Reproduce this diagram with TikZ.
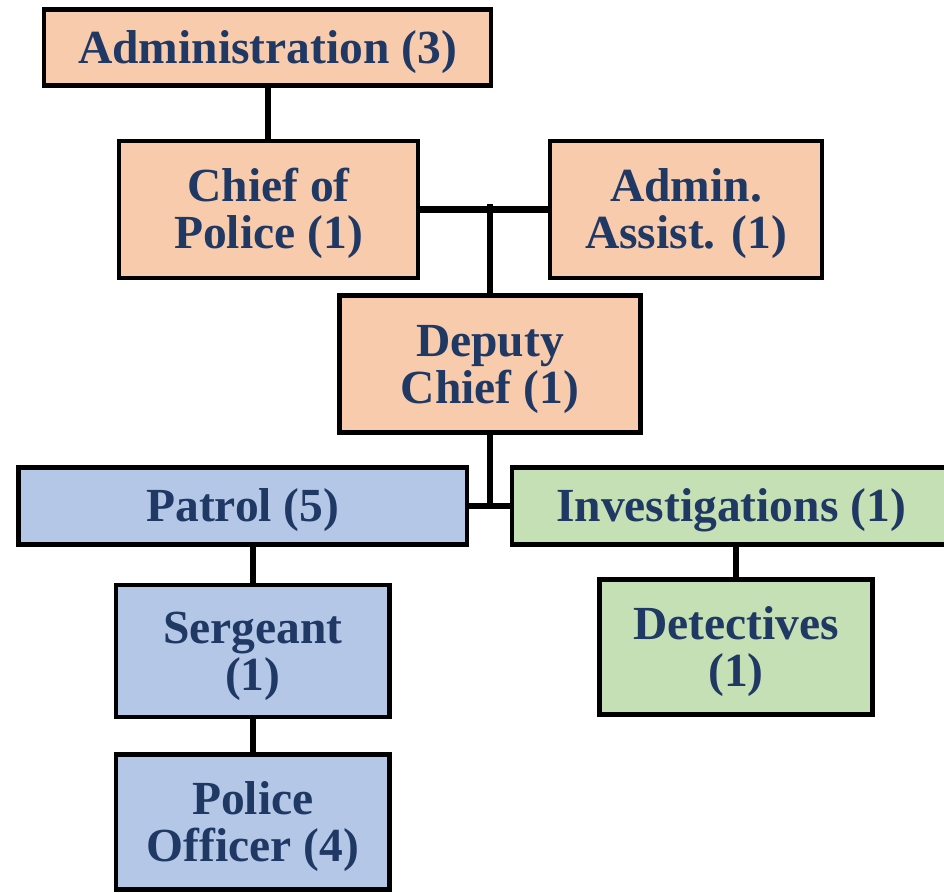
\documentclass[tikz,border=0pt]{standalone}
\usepackage{fontspec}
\setmainfont{Liberation Serif}
\definecolor{peach}{HTML}{F8CBAD}
\definecolor{paleblue}{HTML}{B4C7E7}
\definecolor{palegreen}{HTML}{C5E0B4}
\definecolor{navytext}{HTML}{1F3864}
% tall strut for the first line, which sets the text a little low in its box
\newcommand{\toplift}{\rule{0pt}{42pt}}
\tikzset{
  orgbox/.style={draw=black, line width=4.5pt, rectangle, inner sep=0pt,
    align=center, text=navytext,
    font=\fontsize{47.5}{47}\selectfont\bfseries},
  admin/.style={orgbox, fill=peach},
  patrolunit/.style={orgbox, fill=paleblue},
  investunit/.style={orgbox, fill=palegreen},
  link/.style={draw=black, line width=6.5pt}
}
\begin{document}
\begin{tikzpicture}[x=1pt,y=-1pt]
\useasboundingbox (0,0) rectangle (944,892);
\fill[white] (0,0) rectangle (944,892);

% command staff
\node[admin, minimum width=447pt, minimum height=76pt] (adm) at (267.5,47.5) {\toplift Administration (3)};
\node[admin, minimum width=299pt, minimum height=137pt] (chief) at (268.5,209.5) {\toplift Chief of\\Police (1)};
\node[admin, minimum width=272pt, minimum height=137pt] (assist) at (686,209.5) {\toplift Admin.\\Assist. (1)};
\node[admin, minimum width=301pt, minimum height=137pt] (deputy) at (490,364) {\toplift Deputy\\Chief (1)};

% divisions
\node[patrolunit, minimum width=448.5pt, minimum height=77pt] (patrol) at (242.75,506) {\toplift Patrol (5)};
\node[investunit, minimum width=438pt, minimum height=77pt] (invest) at (731,506) {\toplift Investigations (1)};
\node[patrolunit, minimum width=273.5pt, minimum height=132pt] (sergeant) at (252.75,651) {\toplift Sergeant\\(1)};
\node[patrolunit, minimum width=273.5pt, minimum height=135pt] (officer) at (252.75,822) {\toplift Police\\Officer (4)};
\node[investunit, minimum width=273pt, minimum height=135pt] (detect) at (736,647) {\toplift Detectives\\(1)};

% reporting lines
\coordinate (jtop) at (490,204);
\draw[link] (adm.south -| 268,0) -- (chief.north -| 268,0);
\draw[link] (chief.east) -- (assist.west);
\draw[link] (jtop) -- (deputy.north);
\draw[link] (deputy.south) -- (deputy.south |- patrol.east);
\draw[link] (patrol.east) -- (invest.west);
\draw[link] (sergeant.north |- patrol.south) -- (sergeant.north);
\draw[link] (sergeant.south) -- (officer.north);
\draw[link] (detect.north |- invest.south) -- (detect.north);
\end{tikzpicture}
\end{document}
